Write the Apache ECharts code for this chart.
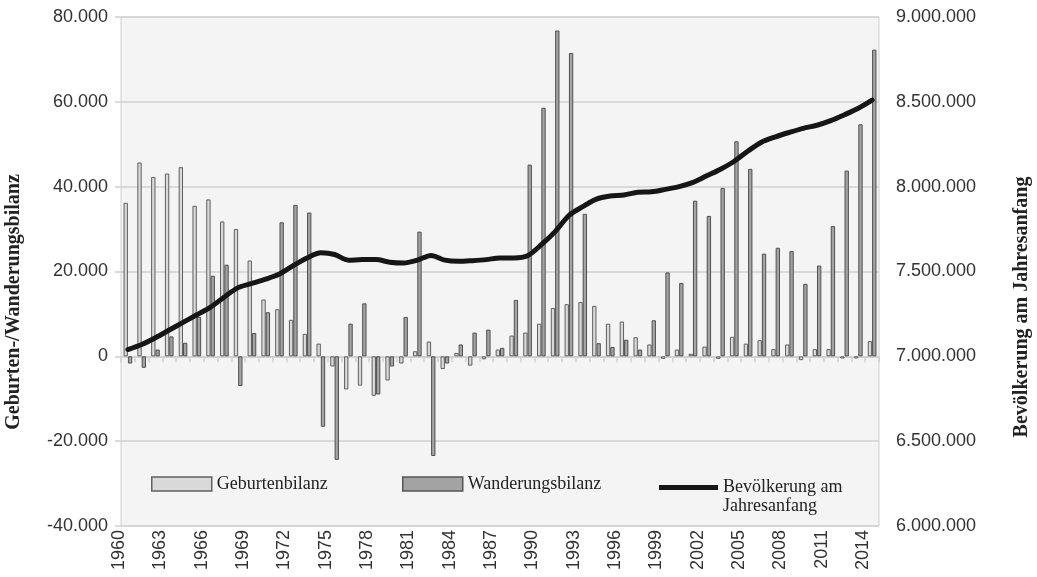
<!DOCTYPE html>
<html>
<head>
<meta charset="utf-8">
<script src="https://cdn.jsdelivr.net/npm/echarts@6/dist/echarts.min.js"></script>
<style>
  html, body { margin: 0; padding: 0; background: #fff; }
  #chart { width: 1037px; height: 577px; }
</style>
</head>
<body>
<div id="chart"></div>
<script>
// Österreich 1960-2014
var years = [
  '1960','1961','1962','1963','1964','1965','1966','1967','1968','1969',
  '1970','1971','1972','1973','1974','1975','1976','1977','1978','1979',
  '1980','1981','1982','1983','1984','1985','1986','1987','1988','1989',
  '1990','1991','1992','1993','1994','1995','1996','1997','1998','1999',
  '2000','2001','2002','2003','2004','2005','2006','2007','2008','2009',
  '2010','2011','2012','2013','2014'
]

var geburtenbilanz = [
  36200, 45700, 42300, 43100, 44600, 35500, 37000, 31800, 30000, 22600,
  13400, 11100, 8600, 5300, 3000, -2400, -7800, -6900, -9300, -5700,
  -1700, 1200, 3500, -3000, 800, -2200, -700, 1600, 4900, 5600,
  7700, 11400, 12300, 12800, 11900, 7700, 8200, 4500, 2800, -600,
  1600, 600, 2300, -600, 4600, 3000, 3800, 1700, 2800, -900,
  1700, 1700, -500, -500, 3600
]

var wanderungsbilanz = [
  -1700, -2700, 1600, 4700, 3200, 9300, 19000, 21600, -7000, 5500,
  10400, 31600, 35700, 33900, -16600, -24400, 7700, 12500, -9000, -2400,
  9300, 29400, -23500, -1700, 2800, 5600, 6300, 2000, 13300, 45200,
  58600, 76800, 71500, 33600, 3100, 2200, 3900, 1600, 8500, 19800,
  17300, 36700, 33100, 39700, 50700, 44200, 24200, 25600, 24800, 17100,
  21400, 30700, 43800, 54700, 72300
]

var bevoelkerung = [
  7040000, 7070000, 7110000, 7155000, 7200000, 7245000, 7290000, 7350000, 7405000, 7430000,
  7455000, 7485000, 7535000, 7580000, 7610000, 7600000, 7567000, 7570000, 7570000, 7555000,
  7550000, 7567000, 7595000, 7567000, 7560000, 7564000, 7570000, 7580000, 7580000, 7593000,
  7658000, 7735000, 7830000, 7882000, 7927000, 7945000, 7951000, 7967000, 7970000, 7984000,
  8000000, 8025000, 8064000, 8103000, 8150000, 8210000, 8263000, 8294000, 8320000, 8344000,
  8362000, 8389000, 8424000, 8462000, 8510000
]

function fmt(v) {
  return String(v).replace(/\B(?=(\d{3})+(?!\d))/g, '.')
}

var sans = '"Liberation Sans", Arial, sans-serif'
var serif = '"Liberation Serif", "DejaVu Serif", serif'

var chart = echarts.init(document.getElementById('chart'))
chart.setOption({
  animation: false,
  backgroundColor: '#fff',
  grid: {
    left: 121, right: 158, top: 17, bottom: 51,
    show: true,
    backgroundColor: '#f4f4f4',
    borderColor: '#d0d0d0',
    borderWidth: 1
  },
  legend: [{
    data: ['Geburtenbilanz'],
    left: 151, top: 475, padding: 0,
    icon: 'rect', itemWidth: 60, itemHeight: 14,
    itemStyle: { borderColor: '#606060', borderWidth: 1.5 },
    textStyle: { fontFamily: serif, fontSize: 18, color: '#222' }
  }, {
    data: ['Wanderungsbilanz'],
    left: 402, top: 475, padding: 0,
    icon: 'rect', itemWidth: 60, itemHeight: 14,
    itemStyle: { borderColor: '#555', borderWidth: 1.5 },
    textStyle: { fontFamily: serif, fontSize: 18, color: '#222' }
  }, {
    data: ['Bevölkerung am Jahresanfang'],
    left: 659, top: 459, padding: 0,
    icon: 'rect', itemWidth: 59, itemHeight: 5,
    // leere erste Zeile, damit die Linie auf Höhe der ersten Textzeile liegt
    formatter: function () { return '\nBevölkerung am\nJahresanfang' },
    textStyle: { fontFamily: serif, fontSize: 18, color: '#222', lineHeight: 19 }
  }],
  graphic: [{
    type: 'text',
    x: 14, y: 302,
    rotation: Math.PI / 2,
    style: {
      text: 'Geburten-/Wanderungsbilanz',
      font: 'bold 20px ' + serif,
      fill: '#222',
      align: 'center',
      verticalAlign: 'middle'
    }
  }, {
    type: 'text',
    x: 1022, y: 307,
    rotation: Math.PI / 2,
    style: {
      text: 'Bevölkerung am Jahresanfang',
      font: 'bold 20px ' + serif,
      fill: '#222',
      align: 'center',
      verticalAlign: 'middle'
    }
  }],
  xAxis: [{
    type: 'category',
    data: years,
    position: 'bottom',
    axisLine: { show: false },
    axisTick: { show: false },
    splitLine: { show: false },
    axisLabel: {
      interval: 2,
      rotate: 90,
      margin: 4,
      verticalAlign: 'bottom',
      fontFamily: sans,
      fontSize: 18,
      color: '#333'
    }
  }, {
    type: 'category',
    data: years,
    position: 'bottom',
    axisLine: { show: true, onZero: true, onZeroAxisIndex: 0, lineStyle: { color: '#cfcfcf', width: 1.5 } },
    axisTick: { show: true, interval: 0, length: 6, lineStyle: { color: '#cfcfcf', width: 1.5 } },
    axisLabel: { show: false },
    splitLine: { show: false }
  }],
  yAxis: [{
    type: 'value',
    min: -40000, max: 80000, interval: 20000,
    axisLine: { show: false },
    axisTick: { show: true, length: 6, lineStyle: { color: '#cfcfcf', width: 1.5 } },
    splitLine: { lineStyle: { color: '#d2d2d2', width: 1.5 } },
    axisLabel: {
      margin: 13,
      fontFamily: sans,
      fontSize: 18,
      color: '#333',
      formatter: fmt
    }
  }, {
    type: 'value',
    position: 'right',
    min: 6000000, max: 9000000, interval: 500000,
    axisLine: { show: false },
    axisTick: { show: false },
    splitLine: { show: false },
    axisLabel: {
      margin: 17,
      fontFamily: sans,
      fontSize: 18,
      color: '#333',
      formatter: fmt
    }
  }],
  series: [{
    name: 'Geburtenbilanz',
    type: 'bar',
    xAxisIndex: 0, yAxisIndex: 0,
    data: geburtenbilanz,
    barGap: '0%',
    barCategoryGap: '37%',
    itemStyle: { color: '#d9d9d9', borderColor: '#606060', borderWidth: 1 }
  }, {
    name: 'Wanderungsbilanz',
    type: 'bar',
    xAxisIndex: 0, yAxisIndex: 0,
    data: wanderungsbilanz,
    itemStyle: { color: '#a3a3a3', borderColor: '#505050', borderWidth: 1 }
  }, {
    name: 'Bevölkerung am Jahresanfang',
    type: 'line',
    xAxisIndex: 0, yAxisIndex: 1,
    data: bevoelkerung,
    smooth: 0.3,
    symbol: 'none',
    z: 5,
    lineStyle: { color: '#161616', width: 5, cap: 'round' },
    itemStyle: { color: '#161616' }
  }]
})
</script>
</body>
</html>
